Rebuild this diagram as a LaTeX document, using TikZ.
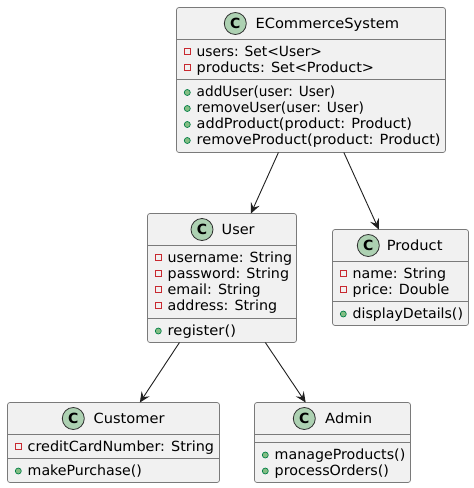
\documentclass[tikz,border=0pt]{standalone}
\usepackage{fontspec}
\usepackage{graphicx}
\setmainfont{DejaVu Sans}
\usetikzlibrary{arrows.meta}
\tikzset{
  classbox/.style={draw=boxline,fill=boxfill,line width=0.7pt,rounded corners=2.5pt,inner sep=0pt,outer sep=0pt},
  sepline/.style={draw=boxline,line width=0.7pt},
  titletext/.style={anchor=base west,inner sep=0pt,font=\fontsize{14}{16}\selectfont,text=black},
  membertext/.style={anchor=base west,inner sep=0pt,font=\fontsize{14}{16}\selectfont,text=black},
  badge/.style={circle,draw=badgeline,fill=badgefill,line width=0.8pt,minimum size=22pt,inner sep=0pt,text=black,font=\fontsize{14}{14}\selectfont\bfseries},
  privicon/.style={draw=privred,line width=0.7pt},
  pubicon/.style={draw=pubgreen,fill=pubfill,line width=0.7pt},
  assoc/.style={draw=arrowline,line width=0.9pt,-{Stealth[length=10.5pt,width=9.5pt,inset=4pt,fill=arrowline]}}
}
\definecolor{boxline}{HTML}{7A7A7A}
\definecolor{boxfill}{HTML}{F1F1F1}
\definecolor{badgeline}{HTML}{303030}
\definecolor{badgefill}{HTML}{ADD1B2}
\definecolor{privred}{HTML}{C82930}
\definecolor{pubgreen}{HTML}{038048}
\definecolor{pubfill}{HTML}{84BE84}
\definecolor{arrowline}{HTML}{202020}
% text set to a given width, its height kept
\newcommand{\fit}[2]{\resizebox{#1pt}{\height}{#2}}
% name, box left, baseline, width, text
\newcommand{\privm}[5]{%
  \draw[privicon] (#2+7.8,#3-7.5) rectangle (#2+13.8,#3-1.5);
  \node[membertext] (#1) at (#2+20,#3) {\fit{#4}{#5}};}
\newcommand{\pubm}[5]{%
  \draw[pubicon] (#2+10.8,#3-4) circle (3pt);
  \node[membertext] (#1) at (#2+20,#3) {\fit{#4}{#5}};}
% name of box, y
\newcommand{\sepl}[2]{\draw[sepline] (#1.west |- 0,#2) -- (#1.east |- 0,#2);}
\begin{document}
\begin{tikzpicture}[x=1pt,y=-1pt]
\useasboundingbox (0,0) rectangle (474,488);
\fill[white] (0,0) rectangle (474,488);
% boxes
\node[classbox,minimum width=269pt,minimum height=145pt] (ecs) at (311,80) {};
\node[classbox,minimum width=149pt,minimum height=129pt] (user) at (222,278) {};
\node[classbox,minimum width=136pt,minimum height=96pt] (product) at (400.5,277.5) {};
\node[classbox,minimum width=212pt,minimum height=80pt] (customer) at (113.5,442.5) {};
\node[classbox,minimum width=156pt,minimum height=80pt] (admin) at (332.5,442.5) {};
% separators
\sepl{ecs}{39.5}\sepl{ecs}{79.5}
\sepl{user}{245.5}\sepl{user}{318.5}
\sepl{product}{261.5}\sepl{product}{301.5}
\sepl{customer}{434.5}\sepl{customer}{458.5}
\sepl{admin}{434.5}\sepl{admin}{442.5}
% titles
\node[badge] (ecsbadge) at (235.3,23.5) {C};
\node[titletext] (ecstitle) at (255.3,28.3) {\fit{143.6}{ECommerceSystem}};
\node[badge] (userbadge) at (202,229.5) {C};
\node[titletext] (usertitle) at (221.5,234.3) {\fit{33}{User}};
\node[badge] (productbadge) at (368.3,245.5) {C};
\node[titletext] (producttitle) at (386.6,250.3) {\fit{55.7}{Product}};
\node[badge] (customerbadge) at (73.3,418.5) {C};
\node[titletext] (customertitle) at (93.5,423.3) {\fit{70.9}{Customer}};
\node[badge] (adminbadge) at (304.3,418.5) {C};
\node[titletext] (admintitle) at (325,423.3) {\fit{46.9}{Admin}};
% members
\privm{m1}{176.5}{56}{125.4}{users: Set<User>}
\privm{m2}{176.5}{72}{177.4}{products: Set<Product>}
\pubm{m3}{176.5}{96.5}{138.6}{addUser(user: User)}
\pubm{m4}{176.5}{112.5}{167.3}{removeUser(user: User)}
\pubm{m5}{176.5}{128.5}{215.3}{addProduct(product: Product)}
\pubm{m6}{176.5}{144.5}{243.9}{removeProduct(product: Product)}
\privm{m7}{147.5}{262}{124.4}{username: String}
\privm{m8}{147.5}{278}{121.4}{password: String}
\privm{m9}{147.5}{294}{93}{email: String}
\privm{m10}{147.5}{310}{109.4}{address: String}
\pubm{m11}{147.5}{335}{68.3}{register()}
\privm{m12}{332.5}{278}{93.4}{name: String}
\privm{m13}{332.5}{294}{96.8}{price: Double}
\pubm{m14}{332.5}{318}{110.3}{displayDetails()}
\privm{m15}{7.5}{451}{186.4}{creditCardNumber: String}
\pubm{m16}{7.5}{475}{114.3}{makePurchase()}
\pubm{m17}{254.5}{459}{130.6}{manageProducts()}
\pubm{m18}{254.5}{475}{114.3}{processOrders()}
% connectors
\draw[assoc] (ecs) -- (user);
\draw[assoc] (ecs) -- (product);
\draw[assoc] (user) -- (customer);
\draw[assoc] (user) -- (admin);
\end{tikzpicture}
\end{document}
